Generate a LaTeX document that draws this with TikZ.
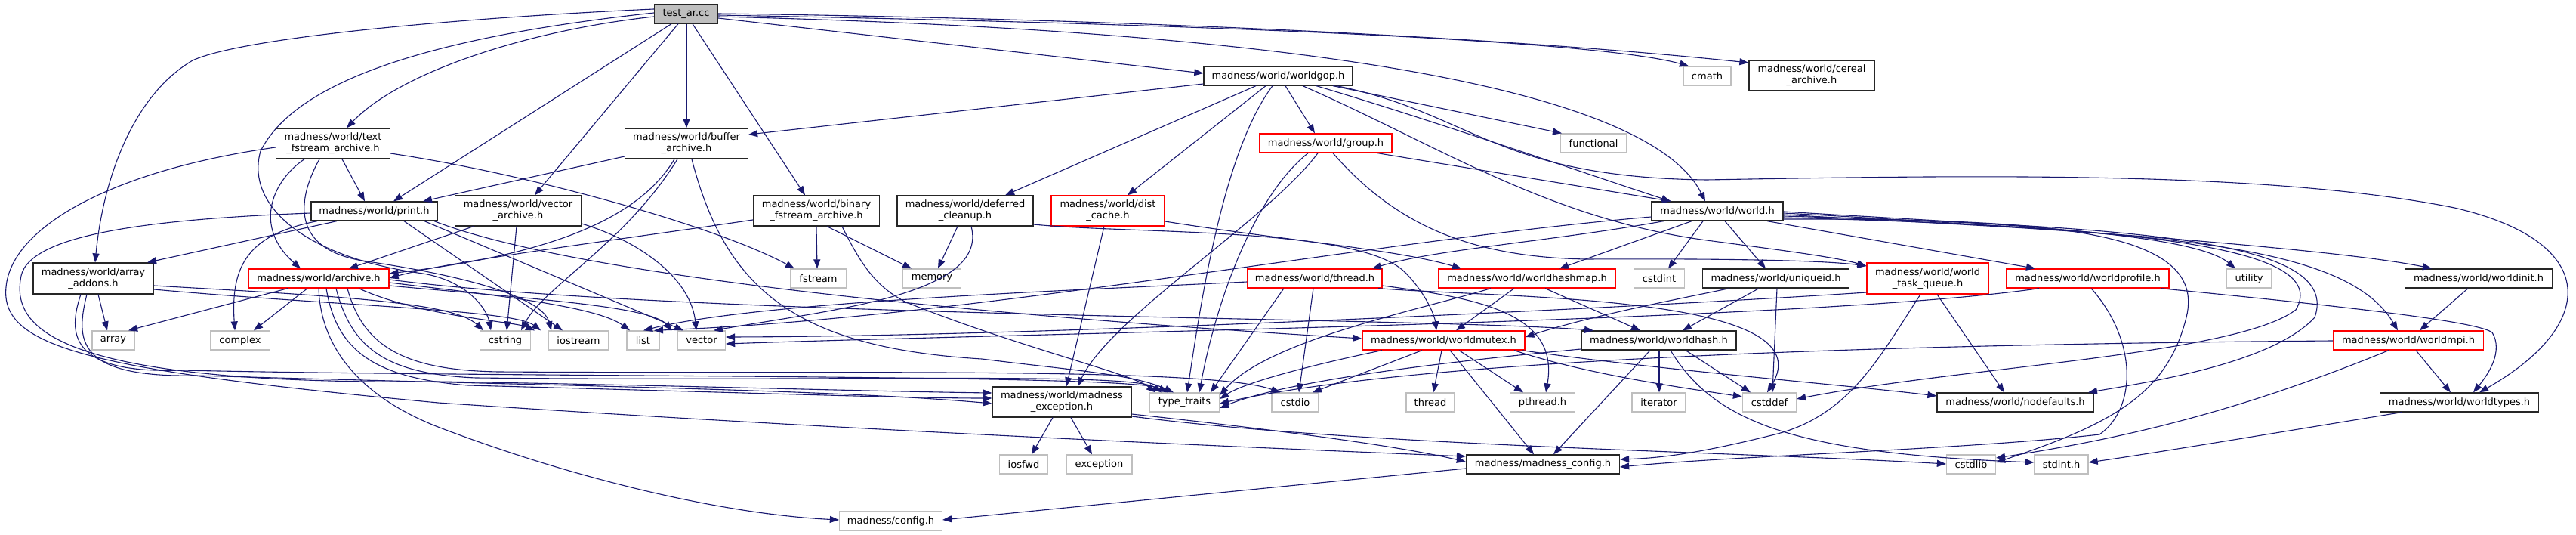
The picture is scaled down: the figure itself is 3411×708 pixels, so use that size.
\documentclass[tikz,border=0pt]{standalone}
\usepackage{fontspec}
\setmainfont{DejaVu Sans}
\usetikzlibrary{arrows.meta}
\definecolor{edgeblue}{HTML}{191970}
\definecolor{nodegray}{HTML}{BFBFBF}
\definecolor{nodered}{HTML}{FF0000}
\tikzset{
  box/.style={draw, line width=1.3pt, inner sep=0pt, fill=white, align=center,
    font=\fontsize{13pt}{15pt}\selectfont},
  nblk/.style={box, draw=black!85},
  nred/.style={box, draw=nodered},
  ngry/.style={box, draw=nodegray},
  nroot/.style={box, draw=black!85, fill=nodegray},
  conn/.style={draw=edgeblue, line width=1.1pt, -{Triangle[length=12pt,width=9pt]}}
}
\begin{document}
\begin{tikzpicture}[x=1pt,y=-1pt]
\fill[white] (0,0) rectangle (3411,708);
\useasboundingbox (0,0) rectangle (3411,708);

% ---------------- nodes ----------------
\node[nroot, minimum width=84, minimum height=25] (test) at (908.5,18.5) {test\_ar.cc};
\node[nblk, minimum width=151, minimum height=40] (textf) at (441,190) {madness/world/text\\\_fstream\_archive.h};
\node[nblk, minimum width=167, minimum height=25] (print) at (495.5,279.5) {madness/world/print.h};
\node[nblk, minimum width=159, minimum height=41] (arradd) at (123.5,368.5) {madness/world/array\\\_addons.h};
\node[nred, minimum width=186, minimum height=25] (archive) at (422,368.5) {madness/world/archive.h};
\node[ngry, minimum width=56, minimum height=25] (array) at (150,450.5) {array};
\node[ngry, minimum width=79, minimum height=25] (complex) at (318,450.5) {complex};
\node[nblk, minimum width=163, minimum height=40] (bufar) at (909,190) {madness/world/buffer\\\_archive.h};
\node[nblk, minimum width=167, minimum height=40] (vecar) at (686,279) {madness/world/vector\\\_archive.h};
\node[nblk, minimum width=167, minimum height=40] (binar) at (1081,279) {madness/world/binary\\\_fstream\_archive.h};
\node[ngry, minimum width=67, minimum height=25] (cstring) at (669,450.5) {cstring};
\node[ngry, minimum width=80, minimum height=25] (iostream) at (766,450.5) {iostream};
\node[ngry, minimum width=43, minimum height=25] (list) at (851.5,450.5) {list};
\node[ngry, minimum width=63, minimum height=25] (vector) at (929,450.5) {vector};
\node[ngry, minimum width=74, minimum height=25] (fstream) at (1083.5,368.5) {fstream};
\node[ngry, minimum width=77, minimum height=25] (memory) at (1234,368.5) {memory};
\node[nblk, minimum width=180, minimum height=40] (deferred) at (1278,279) {madness/world/deferred\\\_cleanup.h};
\node[nred, minimum width=150, minimum height=40] (dist) at (1467,279) {madness/world/dist\\\_cache.h};
\node[nblk, minimum width=197, minimum height=25] (gop) at (1692.5,100.5) {madness/world/worldgop.h};
\node[nred, minimum width=175, minimum height=25] (group) at (1755.5,189.5) {madness/world/group.h};
\node[ngry, minimum width=87, minimum height=25] (functional) at (2110,189.5) {functional};
\node[ngry, minimum width=63, minimum height=25] (cmath) at (2260.5,100.5) {cmath};
\node[nblk, minimum width=174, minimum height=25] (world) at (2274,279.5) {madness/world/world.h};
\node[nblk, minimum width=166, minimum height=40] (cereal) at (2399,100) {madness/world/cereal\\\_archive.h};
\node[nblk, minimum width=194, minimum height=25] (uniqueid) at (2351.5,368.5) {madness/world/uniqueid.h};
\node[nred, minimum width=161, minimum height=41] (wtq) at (2552.5,368.5) {madness/world/world\\\_task\_queue.h};
\node[nred, minimum width=215, minimum height=25] (wprof) at (2764.5,368.5) {madness/world/worldprofile.h};
\node[ngry, minimum width=71, minimum height=25] (cstddef) at (2343,532.5) {cstddef};
\node[nblk, minimum width=207, minimum height=25] (nodefaults) at (2668.5,532.5) {madness/world/nodefaults.h};
\node[ngry, minimum width=65, minimum height=25] (cstdlib) at (2610,614.5) {cstdlib};
\node[ngry, minimum width=71, minimum height=25] (stdint) at (2729.5,614.5) {stdint.h};
\node[ngry, minimum width=60, minimum height=25] (utility) at (2978,368.5) {utility};
\node[nblk, minimum width=194.5, minimum height=25] (winit) at (3282,368.5) {madness/world/worldinit.h};
\node[nred, minimum width=198.5, minimum height=25] (wmpi) at (3189,450.5) {madness/world/worldmpi.h};
\node[nblk, minimum width=209.5, minimum height=25] (wtypes) at (3256.5,532.5) {madness/world/worldtypes.h};
\node[nblk, minimum width=184, minimum height=40] (mexc) at (1406,532) {madness/world/madness\\\_exception.h};
\node[ngry, minimum width=92, minimum height=25] (typetr) at (1568.5,532.5) {type\_traits};
\node[ngry, minimum width=64, minimum height=25] (iosfwd) at (1355.5,614.5) {iosfwd};
\node[ngry, minimum width=87, minimum height=25] (exception) at (1455.5,614.5) {exception};
\node[ngry, minimum width=136, minimum height=25] (config) at (1179.5,689.5) {madness/config.h};
\node[ngry, minimum width=62, minimum height=25] (cstdio) at (1715,532.5) {cstdio};
\node[nred, minimum width=178, minimum height=25] (thread) at (1741,368.5) {madness/world/thread.h};
\node[nred, minimum width=234, minimum height=25] (hashmap) at (2022,368.5) {madness/world/worldhashmap.h};
\node[ngry, minimum width=67, minimum height=25] (cstdint) at (2197,368.5) {cstdint};
\node[nred, minimum width=215, minimum height=25] (wmutex) at (1911.5,450.5) {madness/world/worldmutex.h};
\node[nblk, minimum width=205, minimum height=25] (whash) at (2196.5,450.5) {madness/world/worldhash.h};
\node[ngry, minimum width=64, minimum height=25] (threadsys) at (1894,532.5) {thread};
\node[ngry, minimum width=86, minimum height=25] (pthread) at (2042.5,532.5) {pthread.h};
\node[ngry, minimum width=71, minimum height=25] (iterator) at (2196.5,532.5) {iterator};
\node[nblk, minimum width=203, minimum height=25] (madconfig) at (2043,614.5) {madness/madness\_config.h};

% ---------------- edges ----------------
% test_ar.cc
\draw[conn] (test.west |- 0,22) .. controls (700,40) and (530,95) .. (textf.north -| 459,0);
\draw[conn] (test.west |- 0,12) .. controls (600,24) and (320,50) .. (255,80) .. controls (170,130) and (135,250) .. (arradd.north -| 126,0);
\draw[conn] (test.west |- 0,17) .. controls (560,50) and (390,110) .. (345,200) .. controls (325,270) and (400,340) .. (560,362) .. controls (620,372) and (645,410) .. (cstring.north -| 650,0);
\draw[conn] (test.south -| 889,0) -- (print.north -| 521,0);
\draw[conn] (test.south -| 898,0) -- (vecar.north -| 708,0);
\draw[conn] (test.south -| 909,0) -- (bufar.north -| 909,0);
\draw[conn] (test.south -| 917,0) -- (binar.north -| 1066,0);
\draw[conn] (test.east |- 0,24) -- (gop.west |- 0,97);
\draw[conn] (test.east |- 0,22) .. controls (1900,45) and (2200,150) .. (world.north -| 2258,0);
\draw[conn] (test.east |- 0,20) .. controls (1500,30) and (2100,50) .. (cmath.north -| 2236,0);
\draw[conn] (test.east |- 0,18) .. controls (1500,25) and (2000,50) .. (cereal.west |- 0,83);

% text_fstream_archive.h
\draw[conn] (textf.south -| 453,0) -- (print.north -| 483,0);
\draw[conn] (textf.south -| 403,0) .. controls (360,240) and (335,300) .. (archive.north -| 398,0);
\draw[conn] (textf.east |- 0,203) .. controls (700,230) and (950,300) .. (fstream.north -| 1052,0);
\draw[conn] (textf.south -| 423,0) .. controls (390,270) and (390,330) .. (480,345) .. controls (650,370) and (720,400) .. (iostream.north -| 730,0);
\draw[conn] (textf.west |- 0,195) .. controls (150,225) and (15,300) .. (8,380) .. controls (0,460) and (120,490) .. (580,533) .. controls (1100,568) and (1600,590) .. (madconfig.west |- 0,604);

% print.h
\draw[conn] (print.south -| 446,0) -- (arradd.north -| 195,0);
\draw[conn] (print.south -| 420,0) .. controls (330,310) and (305,350) .. (complex.north -| 311,0);
\draw[conn] (print.south -| 535,0) -- (iostream.north -| 745,0);
\draw[conn] (print.south -| 562,0) -- (vector.north -| 905,0);
\draw[conn] (print.west |- 0,282) .. controls (200,290) and (40,310) .. (28,365) .. controls (15,430) and (60,510) .. (580,505) .. controls (900,510) and (1150,518) .. (mexc.west |- 0,520);
\draw[conn] (print.south -| 575,0) .. controls (800,380) and (1500,430) .. (wmutex.west |- 0,448);

% array_addons.h
\draw[conn] (arradd.south -| 130,0) -- (array.north -| 142,0);
\draw[conn] (arradd.east |- 0,378) .. controls (450,392) and (600,400) .. (cstring.north -| 640,0);
\draw[conn] (arradd.east |- 0,383) .. controls (450,405) and (680,410) .. (iostream.north -| 716,0);
\draw[conn] (arradd.south -| 107,0) .. controls (90,440) and (90,495) .. (240,490) .. controls (700,500) and (1500,495) .. (typetr.north -| 1546,0);
\draw[conn] (arradd.south -| 115,0) .. controls (100,450) and (100,500) .. (260,497) .. controls (700,510) and (1100,515) .. (mexc.west |- 0,534);

% archive.h
\draw[conn] (archive.south -| 381,0) -- (array.north -| 170,0);
\draw[conn] (archive.south -| 407,0) -- (complex.north -| 336,0);
\draw[conn] (archive.south -| 422,0) .. controls (425,470) and (490,530) .. (580,565) .. controls (750,630) and (950,680) .. (config.west |- 0,688);
\draw[conn] (archive.south -| 432,0) .. controls (445,460) and (490,500) .. (620,510) .. controls (1000,520) and (1200,527) .. (mexc.west |- 0,527);
\draw[conn] (archive.south -| 445,0) .. controls (465,460) and (510,495) .. (630,500) .. controls (1100,505) and (1500,492) .. (typetr.north -| 1538,0);
\draw[conn] (archive.south -| 460,0) .. controls (480,455) and (530,490) .. (660,492) .. controls (1100,495) and (1600,485) .. (cstdio.north -| 1695,0);
\draw[conn] (archive.south -| 475,0) .. controls (560,420) and (680,425) .. (iostream.north -| 708,0);
\draw[conn] (archive.east |- 0,374) .. controls (650,390) and (790,405) .. (list.north -| 834,0);
\draw[conn] (archive.east |- 0,378) .. controls (700,395) and (860,405) .. (vector.north -| 890,0);
\draw[conn] (archive.east |- 0,370) .. controls (900,420) and (1900,420) .. (whash.north -| 2110,0);

% vector_archive.h
\draw[conn] (vecar.south -| 627,0) -- (archive.north -| 462,0);
\draw[conn] (vecar.south -| 684,0) -- (cstring.north -| 671,0);
\draw[conn] (vecar.east |- 0,296) .. controls (850,320) and (915,370) .. (vector.north -| 922,0);

% buffer_archive.h
\draw[conn] (bufar.west |- 0,207) -- (print.north -| 560,0);
\draw[conn] (bufar.south -| 893,0) .. controls (840,300) and (700,340) .. (archive.east |- 0,362);
\draw[conn] (bufar.south -| 897,0) .. controls (830,320) and (720,380) .. (cstring.north -| 690,0);
\draw[conn] (bufar.south -| 916,0) .. controls (960,380) and (1050,460) .. (1300,475) .. controls (1420,490) and (1500,495) .. (typetr.north -| 1554,0);

% binary_fstream_archive.h
\draw[conn] (binar.west |- 0,291) .. controls (800,320) and (600,345) .. (archive.east |- 0,368);
\draw[conn] (binar.south -| 1081,0) -- (fstream.north -| 1082,0);
\draw[conn] (binar.south -| 1095,0) -- (memory.north -| 1207,0);
\draw[conn] (binar.south -| 1115,0) .. controls (1140,350) and (1160,380) .. (1200,400) .. controls (1350,460) and (1500,495) .. (typetr.north -| 1530,0);

% worldgop.h
\draw[conn] (gop.west |- 0,111) -- (bufar.east |- 0,178);
\draw[conn] (gop.south -| 1663,0) -- (deferred.north -| 1331,0);
\draw[conn] (gop.south -| 1676,0) -- (dist.north -| 1493,0);
\draw[conn] (gop.south -| 1685,0) .. controls (1620,200) and (1590,400) .. (typetr.north -| 1572,0);
\draw[conn] (gop.south -| 1702,0) -- (group.north -| 1741,0);
\draw[conn] (gop.south -| 1765,0) -- (functional.north -| 2068,0);
\draw[conn] (gop.south -| 1743,0) .. controls (1900,160) and (2100,230) .. (world.north -| 2212,0);
\draw[conn] (gop.south -| 1725,0) .. controls (1900,190) and (2050,290) .. (2260,318) .. controls (2350,330) and (2430,340) .. (wtq.west |- 0,352);
\draw[conn] (gop.south -| 1770,0) .. controls (1950,150) and (1980,235) .. (2260,238) .. controls (2600,232) and (3000,225) .. (3250,275) .. controls (3445,320) and (3440,430) .. (wtypes.north -| 3283,0);

% deferred_cleanup.h
\draw[conn] (deferred.south -| 1268,0) -- (memory.north -| 1242,0);
\draw[conn] (deferred.south -| 1286,0) .. controls (1310,390) and (1100,410) .. (vector.north -| 945,0);
\draw[conn] (deferred.east |- 0,297) .. controls (1500,310) and (1800,300) .. (1860,360) .. controls (1890,390) and (1900,420) .. (wmutex.north -| 1902,0);

% dist_cache.h
\draw[conn] (dist.south -| 1462,0) -- (mexc.north -| 1412,0);
\draw[conn] (dist.east |- 0,293) .. controls (1700,318) and (1850,330) .. (hashmap.north -| 1935,0);

% group.h
\draw[conn] (group.south -| 1745,0) .. controls (1680,290) and (1470,420) .. (mexc.north -| 1427,0);
\draw[conn] (group.south -| 1732,0) .. controls (1660,260) and (1610,400) .. (typetr.north -| 1588,0);
\draw[conn] (group.south -| 1824,0) -- (world.north -| 2213,0);
\draw[conn] (group.south -| 1765,0) .. controls (1850,300) and (1950,340) .. (2100,343) .. controls (2300,342) and (2420,345) .. (wtq.west |- 0,352);

% world.h
\draw[conn] (world.south -| 2203,0) .. controls (2050,320) and (1900,330) .. (thread.north -| 1817,0);
\draw[conn] (world.south -| 2240,0) -- (hashmap.north -| 2065,0);
\draw[conn] (world.south -| 2255,0) -- (cstdint.north -| 2209,0);
\draw[conn] (world.south -| 2284,0) -- (uniqueid.north -| 2338,0);
\draw[conn] (world.south -| 2340,0) -- (wprof.north -| 2695,0);
\draw[conn] (world.west |- 0,287) .. controls (1800,320) and (1300,420) .. (list.north -| 866,0);
\draw[conn] (world.east |- 0,280) .. controls (2600,295) and (2900,305) .. (utility.north -| 2960,0);
\draw[conn] (world.east |- 0,282) .. controls (2700,300) and (3100,330) .. (winit.north -| 3220,0);
\draw[conn] (world.east |- 0,284) .. controls (2800,310) and (3100,310) .. (wmpi.north -| 3175,0);
\draw[conn] (world.east |- 0,286) .. controls (2850,300) and (3100,320) .. (3065,420) .. controls (3010,480) and (2850,505) .. (nodefaults.north -| 2765,0);
\draw[conn] (world.east |- 0,288) .. controls (2820,300) and (3090,325) .. (3040,410) .. controls (2960,470) and (2600,485) .. (cstddef.east |- 0,528);
\draw[conn] (world.east |- 0,290) .. controls (2700,290) and (2925,300) .. (2895,420) .. controls (2870,520) and (2800,560) .. (cstdlib.east |- 0,612);

% thread.h
\draw[conn] (thread.south -| 1739,0) -- (cstdio.north -| 1720,0);
\draw[conn] (thread.south -| 1700,0) -- (typetr.north -| 1603,0);
\draw[conn] (thread.east |- 0,378) .. controls (1960,395) and (2065,415) .. (pthread.north -| 2047,0);
\draw[conn] (thread.south -| 1825,0) .. controls (2000,395) and (2420,390) .. (cstddef.north -| 2340,0);
\draw[conn] (thread.west |- 0,373) .. controls (1400,385) and (1000,400) .. (list.north -| 852,0);

% worldhashmap.h
\draw[conn] (hashmap.south -| 2005,0) -- (wmutex.north -| 1928,0);
\draw[conn] (hashmap.south -| 2046,0) -- (whash.north -| 2172,0);
\draw[conn] (hashmap.south -| 1974,0) .. controls (1880,410) and (1680,450) .. (typetr.east |- 0,523);

% uniqueid.h
\draw[conn] (uniqueid.south -| 2353,0) -- (cstddef.north -| 2347,0);
\draw[conn] (uniqueid.south -| 2329,0) -- (whash.north -| 2228,0);
\draw[conn] (uniqueid.south -| 2290,0) .. controls (2200,400) and (2100,420) .. (wmutex.east |- 0,446);

% world_task_queue.h
\draw[conn] (wtq.south -| 2565,0) -- (nodefaults.north -| 2654,0);
\draw[conn] (wtq.south -| 2543,0) .. controls (2490,470) and (2450,550) .. (2350,575) .. controls (2250,600) and (2200,606) .. (madconfig.east |- 0,608);
\draw[conn] (wtq.west |- 0,387) .. controls (2200,405) and (1400,445) .. (vector.east |- 0,446);

% worldprofile.h
\draw[conn] (wprof.south -| 2861,0) .. controls (3100,405) and (3280,425) .. (3300,440) .. controls (3315,465) and (3295,495) .. (wtypes.north -| 3275,0);
\draw[conn] (wprof.south -| 2769,0) .. controls (2830,450) and (2830,540) .. (2780,575) .. controls (2600,595) and (2300,603) .. (madconfig.east |- 0,618);
\draw[conn] (wprof.south -| 2700,0) .. controls (2400,425) and (1400,440) .. (vector.east |- 0,455);

% worldinit.h, worldmpi.h, worldtypes.h
\draw[conn] (winit.south -| 3268,0) -- (wmpi.north -| 3204,0);
\draw[conn] (wmpi.south -| 3199,0) -- (wtypes.north -| 3245,0);
\draw[conn] (wmpi.south -| 3163,0) .. controls (3000,530) and (2850,575) .. (cstdlib.east |- 0,606);
\draw[conn] (wmpi.west |- 0,451) .. controls (2600,455) and (1900,470) .. (typetr.east |- 0,534);
\draw[conn] (wtypes.south -| 3180,0) .. controls (3000,575) and (2850,600) .. (stdint.east |- 0,612);

% worldmutex.h
\draw[conn] (wmutex.south -| 1883,0) -- (cstdio.north -| 1738,0);
\draw[conn] (wmutex.south -| 1909,0) -- (threadsys.north -| 1898,0);
\draw[conn] (wmutex.south -| 1932,0) -- (pthread.north -| 2017,0);
\draw[conn] (wmutex.south -| 1920,0) -- (madconfig.north -| 2031,0);
\draw[conn] (wmutex.south -| 1830,0) .. controls (1750,480) and (1650,505) .. (typetr.east |- 0,528);
\draw[conn] (wmutex.south -| 2015,0) .. controls (2200,490) and (2450,510) .. (nodefaults.west |- 0,524);
\draw[conn] (wmutex.south -| 2005,0) .. controls (2100,495) and (2220,512) .. (cstddef.west |- 0,525);

% worldhash.h
\draw[conn] (whash.south -| 2197,0) -- (iterator.north -| 2197,0);
\draw[conn] (whash.south -| 2185,0) -- (madconfig.north -| 2057,0);
\draw[conn] (whash.south -| 2232,0) -- (cstddef.north -| 2318,0);
\draw[conn] (whash.south -| 2212,0) .. controls (2270,560) and (2380,600) .. (stdint.west |- 0,612);
\draw[conn] (whash.west |- 0,462) .. controls (1900,480) and (1700,505) .. (typetr.east |- 0,540);

% madness_exception.h, madness_config.h
\draw[conn] (mexc.south -| 1394,0) -- (iosfwd.north -| 1366,0);
\draw[conn] (mexc.south -| 1418,0) -- (exception.north -| 1446,0);
\draw[conn] (mexc.east |- 0,548) .. controls (1700,570) and (1850,590) .. (madconfig.west |- 0,611);
\draw[conn] (mexc.east |- 0,551) .. controls (1800,590) and (2300,598) .. (cstdlib.west |- 0,614);
\draw[conn] (madconfig.west |- 0,620) -- (config.east |- 0,688);
\end{tikzpicture}
\end{document}
